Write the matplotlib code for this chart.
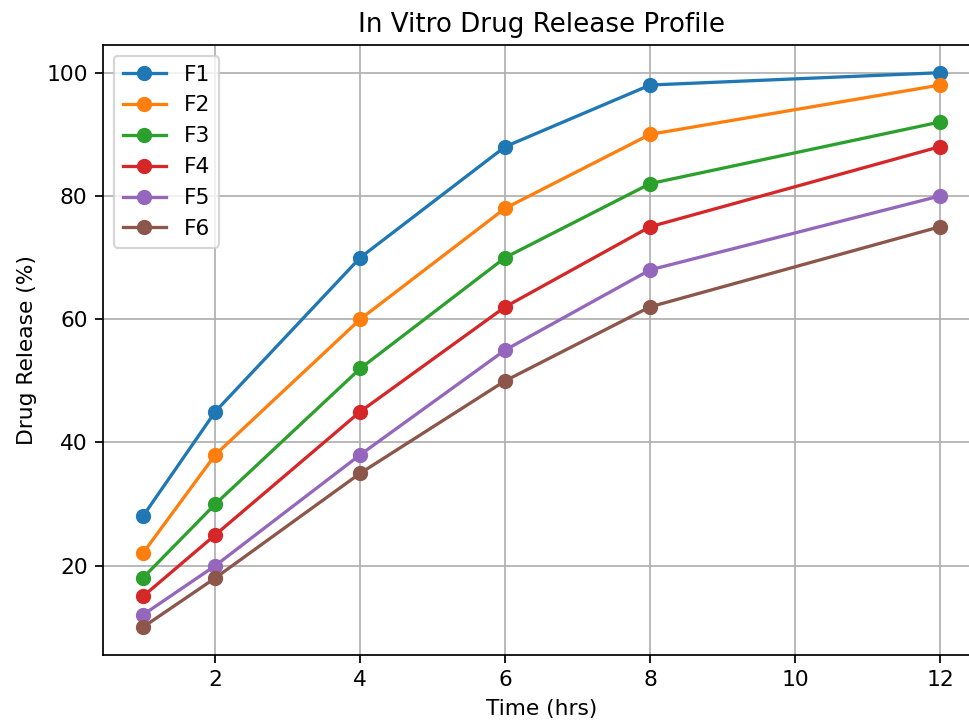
import matplotlib
matplotlib.use("Agg")
import matplotlib.pyplot as plt

# time points (hrs)
time = [1, 2, 4, 6, 8, 12]

# drug release (%) per formulation
f1 = [28, 45, 70, 88, 98, 100]
f2 = [22, 38, 60, 78, 90, 98]
f3 = [18, 30, 52, 70, 82, 92]
f4 = [15, 25, 45, 62, 75, 88]
f5 = [12, 20, 38, 55, 68, 80]
f6 = [10, 18, 35, 50, 62, 75]
labels = ["F1", "F2", "F3", "F4", "F5", "F6"]

dpi = 157
fig = plt.figure(figsize=(969 / dpi, 723 / dpi), dpi=dpi)
# the right spine runs just past the picture edge, as in the reference
ax = fig.add_axes([0.1063, 0.0941, 0.905, 0.8437])

for vals, name in zip([f1, f2, f3, f4, f5, f6], labels):
    ax.plot(time, vals, marker='o', label=name)

ax.set_title('In Vitro Drug Release Profile')
ax.set_xlabel('Time (hrs)')
ax.set_ylabel('Drug Release (%)')
ax.grid(True)
ax.legend(loc='upper left')

fig.savefig('out.png', dpi=dpi)
